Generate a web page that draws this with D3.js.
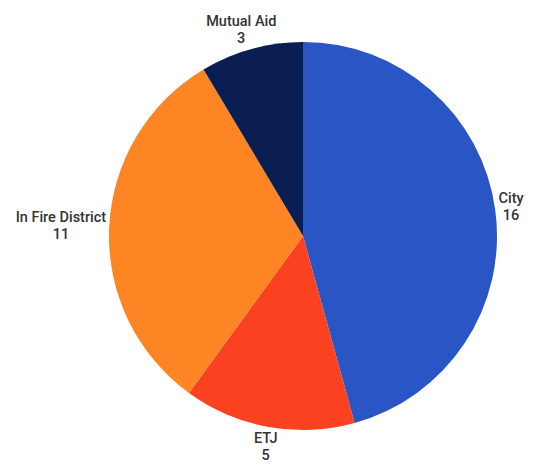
<!DOCTYPE html>
<html>
<head>
<meta charset="utf-8">
<script src="https://cdn.jsdelivr.net/npm/d3@7"></script>
<style>
  body { margin: 0; background: #fff; }
  svg { display: block; font-family: Roboto, "Open Sans", sans-serif; }
</style>
</head>
<body>
<svg id="chart"></svg>
<script>
const categories = ["City", "ETJ", "In Fire District", "Mutual Aid"];
const counts = [16, 5, 11, 3];
const colors = ["#2a55c4", "#fb4220", "#fd8523", "#0b1e53"];

const width = 533, height = 465;
const cx = 303, cy = 236, radius = 194;

const svg = d3.select("#chart")
    .attr("width", width)
    .attr("height", height);

const data = categories.map((c, i) => ({ name: c, value: counts[i], color: colors[i] }));

const pie = d3.pie()
    .sort(null)
    .value(d => d.value);

const arc = d3.arc()
    .innerRadius(0)
    .outerRadius(radius);

const g = svg.append("g")
    .attr("transform", `translate(${cx},${cy})`);

const arcs = pie(data);

g.selectAll("path.slice")
    .data(arcs)
    .join("path")
    .attr("class", "slice")
    .attr("d", arc)
    .attr("fill", d => d.data.color);

// labels sit just outside the rim, pushed away from the centre by half their size
const lineH = 17;
const labelR = radius + 3;
arcs.forEach(d => {
    const a = (d.startAngle + d.endAngle) / 2;
    const px = Math.sin(a) * labelR;
    const py = -Math.cos(a) * labelR;
    const t = g.append("text")
        .attr("text-anchor", "middle")
        .attr("font-size", 14.5)
        .attr("font-weight", 500)
        .attr("fill", "#333");
    t.append("tspan").attr("x", 0).attr("dy", 0).text(d.data.name);
    t.append("tspan").attr("x", 0).attr("dy", lineH).text(d.data.value);
    const bb = t.node().getBBox();
    const w = bb.width, h = bb.height;
    const bx = px + Math.sin(a) * w / 2;
    let by = py - Math.cos(a) * h / 2;
    // keep the block inside the picture
    by = Math.min(by, height - cy - h / 2 - 1);
    by = Math.max(by, -cy + h / 2 + 1);
    const dy = by - (bb.y + h / 2);
    t.attr("transform", `translate(${bx},${dy})`);
});
</script>
</body>
</html>
